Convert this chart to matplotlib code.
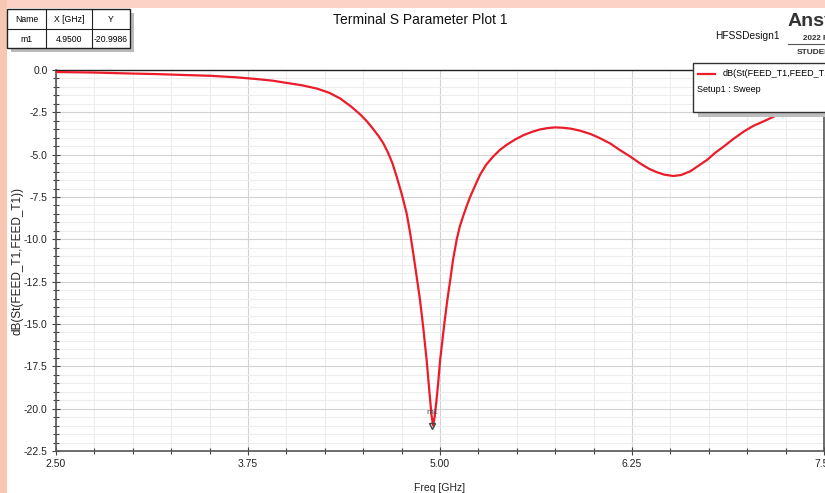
import matplotlib
matplotlib.use("Agg")
import matplotlib.pyplot as plt
from matplotlib.patches import Rectangle
from matplotlib.lines import Line2D
from matplotlib.ticker import MultipleLocator, FormatStrFormatter

plt.rcParams['font.family'] = ['Liberation Sans', 'DejaVu Sans']

# ---- data ----
freq_ghz = [2.50, 2.75, 2.87, 3.00, 3.15, 3.35, 3.50, 3.67, 3.80, 3.91, 4.00, 4.10, 4.20,
            4.28, 4.35, 4.42, 4.48, 4.523, 4.56, 4.60, 4.631, 4.66, 4.69, 4.718, 4.75,
            4.783, 4.805, 4.826, 4.848, 4.870, 4.892, 4.913, 4.93, 4.945,
            4.955, 4.965, 4.975, 4.988, 5.00, 5.014, 5.028, 5.046, 5.065, 5.085, 5.109,
            5.13, 5.152, 5.175, 5.196, 5.23, 5.26, 5.30, 5.347, 5.39, 5.434, 5.49, 5.543,
            5.60, 5.651, 5.70, 5.75, 5.80, 5.85, 5.91, 5.98, 6.04, 6.11, 6.17, 6.24, 6.30,
            6.36, 6.41, 6.46, 6.52, 6.57, 6.63, 6.68, 6.74, 6.79, 6.85, 6.91, 6.98, 7.04,
            7.11, 7.18, 7.26, 7.33, 7.40, 7.50]
s11_db = [-0.12, -0.15, -0.18, -0.21, -0.24, -0.30, -0.34, -0.43, -0.53, -0.63, -0.76, -0.90, -1.10,
          -1.35, -1.68, -2.15, -2.62, -3.02, -3.43, -3.90, -4.33, -4.85, -5.50, -6.30, -7.30,
          -8.47, -9.60, -10.83, -12.20, -13.59, -15.30, -17.13, -18.90, -20.40,
          -20.99, -20.50, -19.70, -18.50, -17.20, -16.10, -15.00, -13.70, -12.50, -11.20, -10.00,
          -9.20, -8.60, -8.00, -7.50, -6.80, -6.20, -5.60, -5.10, -4.72, -4.42, -4.10, -3.85,
          -3.65, -3.51, -3.43, -3.39, -3.41, -3.46, -3.58, -3.78, -4.02, -4.35, -4.72, -5.12, -5.50,
          -5.83, -6.03, -6.18, -6.26, -6.20, -5.98, -5.67, -5.30, -4.90, -4.50, -4.07, -3.62, -3.30,
          -3.02, -2.72, -2.42, -2.18, -1.98, -1.75]

marker_name = "m1"
marker_x = 4.95
marker_y = -20.9986

x_ticks = [2.50, 3.75, 5.00, 6.25, 7.50]
y_ticks = [0.0, -2.5, -5.0, -7.5, -10.0, -12.5, -15.0, -17.5, -20.0, -22.5]

W, H = 825, 493
fig = plt.figure(figsize=(W / 100, H / 100), dpi=100)
fig.patch.set_facecolor('white')

def fx(x):
    return x / W

def fy(y):
    return 1 - y / H

# pink frame strips
fig.patches.append(Rectangle((0, fy(8)), 1, 8 / H, transform=fig.transFigure,
                             facecolor='#FDD2C6', edgecolor='none', zorder=-5))
fig.patches.append(Rectangle((0, 0), 7 / W, 1, transform=fig.transFigure,
                             facecolor='#F6C7B2', edgecolor='none', zorder=-5))

ax = fig.add_axes([fx(56), fy(451), (824 - 56) / W, (451 - 70) / H])
ax.set_facecolor('white')

ax.plot(freq_ghz, s11_db, color='#EC1C2A', lw=1.6, zorder=3, solid_joinstyle='round')

# marker
ax.plot([marker_x], [marker_y], marker='v', ms=5, mfc='none', mec='#444444', mew=1.0, zorder=4)
ax.text(marker_x, marker_y + 0.55, marker_name, fontsize=6, color='#444444',
        ha='center', va='bottom', zorder=4)

ax.set_xlim(2.5, 7.5)
ax.set_ylim(-22.5, 0.0)
ax.set_xticks(x_ticks)
ax.set_yticks(y_ticks)
ax.xaxis.set_major_formatter(FormatStrFormatter('%.2f'))
ax.yaxis.set_major_formatter(FormatStrFormatter('%.1f'))
ax.xaxis.set_minor_locator(MultipleLocator(0.25))
ax.yaxis.set_minor_locator(MultipleLocator(0.5))

ax.grid(which='minor', color='#EDEDED', lw=0.8, zorder=0)
ax.grid(which='major', color='#D2D2D2', lw=0.8, zorder=0)
ax.set_axisbelow(True)

ax.tick_params(which='major', direction='inout', length=6, width=0.8, color='#444444',
               labelsize=7.5, labelcolor='#222222', pad=3)
ax.tick_params(which='minor', direction='inout', length=4, width=0.8, color='#444444')

for side in ['left', 'bottom', 'right']:
    ax.spines[side].set_color('#555555')
    ax.spines[side].set_linewidth(1.2)
ax.spines['top'].set_color('#222222')
ax.spines['top'].set_linewidth(1.0)

ax.set_xlabel('Freq [GHz]', fontsize=7.5, color='#222222', labelpad=10)
ax.set_ylabel('dB(St(FEED_T1,FEED_T1))', fontsize=8.5, color='#222222')
ax.yaxis.set_label_coords((24 - 56) / 768, 0.5)

# title and header texts
fig.text(fx(420), fy(20), 'Terminal S Parameter Plot 1', fontsize=10, color='#111111',
         ha='center', va='center')
fig.text(fx(715), fy(36), 'HFSSDesign1', fontsize=7.3, color='#111111', ha='left', va='center')
fig.text(fx(788), fy(21), 'Ansys', fontsize=14, fontweight='bold', color='#333333',
         ha='left', va='center')
fig.text(fx(803), fy(39), '2022 R1', fontsize=5.8, fontweight='bold', color='#333333',
         ha='left', va='center')
fig.add_artist(Line2D([fx(788), fx(826)], [fy(44), fy(44)], transform=fig.transFigure,
                      color='#555555', lw=0.8))
fig.text(fx(797), fy(53), 'STUDENT', fontsize=6, fontweight='bold', color='#333333',
         ha='left', va='center')

# marker table (top-left)
tx0, tx1, ty0, ty1, tym = 7, 130, 9, 48, 29
fig.patches.append(Rectangle((fx(tx0 + 4), fy(ty1 + 4)), (tx1 - tx0) / W, (ty1 - ty0) / H,
                             transform=fig.transFigure, facecolor='#BBBBBB', edgecolor='none', zorder=5))
fig.patches.append(Rectangle((fx(tx0), fy(ty1)), (tx1 - tx0) / W, (ty1 - ty0) / H,
                             transform=fig.transFigure, facecolor='white', edgecolor='#222222',
                             lw=1.0, zorder=6))
fig.add_artist(Line2D([fx(tx0), fx(tx1)], [fy(tym), fy(tym)], transform=fig.transFigure,
                      color='#222222', lw=0.8, zorder=7))
for cx in [46, 92]:
    fig.add_artist(Line2D([fx(cx), fx(cx)], [fy(ty0), fy(ty1)], transform=fig.transFigure,
                          color='#222222', lw=0.8, zorder=7))
cols = [(7, 46), (46, 92), (92, 130)]
headers = ['Name', 'X [GHz]', 'Y']
vals = [marker_name, f'{marker_x:.4f}', f'{marker_y:.4f}']
for (a, b), h, v in zip(cols, headers, vals):
    fig.text(fx((a + b) / 2), fy(19), h, fontsize=6.2, ha='center', va='center', zorder=8)
    fig.text(fx((a + b) / 2), fy(39), v, fontsize=6.2, ha='center', va='center', zorder=8)

# legend box (top-right)
lx0, lx1, ly0, ly1 = 693, 830, 63, 112
fig.patches.append(Rectangle((fx(lx0 + 5), fy(ly1 + 5)), (lx1 - lx0) / W, (ly1 - ly0) / H,
                             transform=fig.transFigure, facecolor='#BDBDBD', edgecolor='none', zorder=5))
fig.patches.append(Rectangle((fx(lx0), fy(ly1)), (lx1 - lx0) / W, (ly1 - ly0) / H,
                             transform=fig.transFigure, facecolor='white', edgecolor='#333333',
                             lw=1.0, zorder=6))
fig.add_artist(Line2D([fx(698), fx(715)], [fy(74), fy(74)], transform=fig.transFigure,
                      color='#EC1C2A', lw=1.6, zorder=7))
fig.text(fx(723), fy(74), 'dB(St(FEED_T1,FEED_T1))', fontsize=6.5, ha='left', va='center', zorder=8)
fig.text(fx(697), fy(89), 'Setup1 : Sweep', fontsize=6.5, ha='left', va='center', zorder=8)

fig.savefig('out.png', dpi=100)
